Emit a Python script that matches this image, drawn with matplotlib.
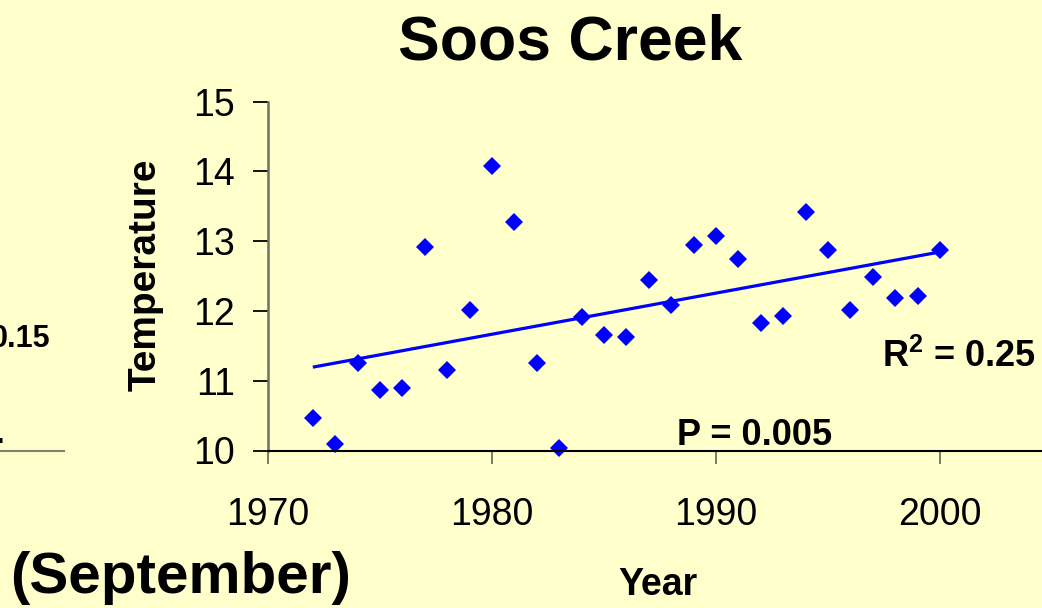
import numpy as np
import matplotlib
matplotlib.use("Agg")
import matplotlib.pyplot as plt
from matplotlib.lines import Line2D

# September mean temperature, Soos Creek
years = [1972, 1973, 1974, 1975, 1976, 1977, 1978, 1979, 1980, 1981,
         1982, 1983, 1984, 1985, 1986, 1987, 1988, 1989, 1990, 1991,
         1992, 1993, 1994, 1995, 1996, 1997, 1998, 1999, 2000]
temps = [10.46, 10.09, 11.25, 10.86, 10.89, 12.91, 11.16, 12.02, 14.07, 13.27,
         11.25, 10.04, 11.91, 11.66, 11.63, 12.44, 12.09, 12.95, 13.07, 12.75,
         11.82, 11.93, 13.41, 12.87, 12.02, 12.48, 12.18, 12.21, 12.87]
x_ticks = [1970, 1980, 1990, 2000]
y_ticks = [10, 11, 12, 13, 14, 15]

plt.rcParams['font.family'] = ['Liberation Sans', 'DejaVu Sans']
plt.rcParams['mathtext.fontset'] = 'custom'
plt.rcParams['mathtext.rm'] = 'Liberation Sans:bold'
plt.rcParams['mathtext.bf'] = 'Liberation Sans:bold'

W, H = 1042, 608
bg = '#FFFFCC'
blue = '#0000FF'

fig = plt.figure(figsize=(W / 100, H / 100), dpi=100, facecolor=bg)


def px(x, y):
    # pixel position (from top-left) -> figure fraction
    return x / W, 1 - y / H


x0, y_top = px(268, 101.5)
_, y_bot = px(268, 450.5)
ax = fig.add_axes([x0, y_bot, 1 - x0, y_top - y_bot])
ax.set_facecolor(bg)

# trend line (least squares fit of the points)
slope, icpt = np.polyfit(years, temps, 1)
xs = np.array([years[0], years[-1]])
ax.plot(xs, slope * xs + icpt, color=blue, lw=2.3, solid_capstyle='butt')
ax.plot(years, temps, 'D', color=blue, ms=9.6, mew=0, clip_on=False)

ax.set_xlim(1970, 1970 + (W - 268) / 22.4)
ax.set_ylim(10, 15)
ax.set_xticks(x_ticks)
ax.set_yticks(y_ticks)
ax.tick_params(axis='x', length=9.5, width=1.3, color='#707060',
               pad=24, labelsize=27)
ax.tick_params(axis='y', length=11, width=1.3, color='black',
               pad=13, labelsize=27)
for s in ['top', 'right']:
    ax.spines[s].set_visible(False)
ax.spines['left'].set_color('#707060')
ax.spines['left'].set_linewidth(1.8)
ax.spines['bottom'].set_color('black')
ax.spines['bottom'].set_linewidth(1.5)

# texts
fig.text(*px(570, 59), 'Soos Creek', ha='center', va='baseline',
         fontsize=45, fontweight='bold')
fig.text(*px(146, 275), 'Temperature', ha='center', va='center',
         rotation=90, fontsize=28, fontweight='bold')
fig.text(*px(658, 595), 'Year', ha='center', va='baseline',
         fontsize=27, fontweight='bold')
fig.text(*px(10, 593), '(September)', ha='left', va='baseline',
         fontsize=42, fontweight='bold')
fig.text(*px(677, 445), 'P = 0.005', ha='left', va='baseline',
         fontsize=26, fontweight='bold')
fig.text(*px(882, 367), r'$\mathbf{R^2}$ = 0.25', ha='left', va='baseline',
         fontsize=26, fontweight='bold')

# pieces of the neighbouring chart at the left edge
fig.text(*px(50, 347), '0.15', ha='right', va='baseline',
         fontsize=22, fontweight='bold')
fig.text(*px(4, 443), '.', ha='right', va='baseline',
         fontsize=22, fontweight='bold')
fig.add_artist(Line2D([0, 64 / W], [1 - 450.5 / H] * 2, color='#808070',
                      lw=1.5, transform=fig.transFigure))

fig.savefig('out.png', dpi=100, facecolor=bg)
